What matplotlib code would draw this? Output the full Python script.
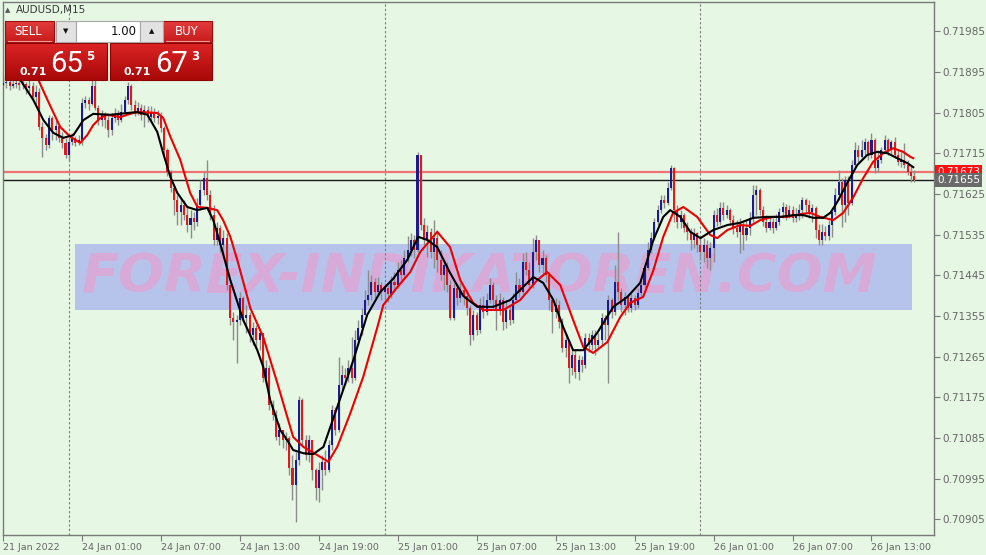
import numpy as np
import matplotlib
matplotlib.use("Agg")
import matplotlib.pyplot as plt
from matplotlib.patches import Rectangle
from matplotlib.colors import LinearSegmentedColormap
from matplotlib.transforms import blended_transform_factory

W, H = 987, 555

# prices in points above 0.70000  (1655 -> 0.71655), AUDUSD M15, bar 0 = 21 Jan 19:00
BASE = 0.70
PT = 0.00001

first_open = 1866
closes = [
    1870, 1873, 1864, 1868, 1870, 1866, 1868, 1859, 1864, 1839,
    1850, 1773, 1749, 1733, 1793, 1766, 1775, 1749, 1738, 1711,
    1740, 1749, 1738, 1744, 1826, 1833, 1824, 1864, 1815, 1788,
    1800, 1788, 1766, 1793, 1800, 1788, 1806, 1833, 1864, 1822,
    1806, 1815, 1800, 1811, 1795, 1806, 1793, 1797, 1771, 1722,
    1673, 1638, 1611, 1585, 1600, 1578, 1556, 1572, 1563, 1600,
    1634, 1660, 1622, 1578, 1523, 1549, 1512, 1527, 1423, 1350,
    1341, 1346, 1395, 1350, 1357, 1313, 1328, 1302, 1317, 1217,
    1240, 1158, 1136, 1087, 1102, 1080, 1085, 1018, 981, 1036,
    1169, 1080, 1047, 1080, 1014, 974, 1014, 1032, 1014, 1069,
    1147, 1102, 1202, 1224, 1217, 1240, 1217, 1302, 1328, 1357,
    1390, 1401, 1430, 1408, 1423, 1408, 1417, 1403, 1430, 1423,
    1456, 1445, 1483, 1501, 1523, 1501, 1711, 1556, 1523, 1541,
    1496, 1527, 1479, 1445, 1468, 1423, 1350, 1417, 1395, 1412,
    1399, 1372, 1313, 1357, 1324, 1379, 1364, 1390, 1423, 1390,
    1368, 1390, 1341, 1368, 1346, 1390, 1423, 1408, 1474, 1456,
    1423, 1496, 1523, 1468, 1483, 1445, 1390, 1364, 1379, 1341,
    1284, 1302, 1240, 1268, 1231, 1257, 1246, 1306, 1291, 1313,
    1291, 1302, 1350, 1335, 1390, 1364, 1430, 1408, 1379, 1397,
    1372, 1395, 1379, 1406, 1423, 1461, 1501, 1527, 1563, 1589,
    1611, 1605, 1638, 1682, 1589, 1563, 1578, 1549, 1541, 1523,
    1538, 1512, 1496, 1512, 1483, 1505, 1578, 1563, 1594, 1578,
    1589, 1567, 1549, 1541, 1556, 1534, 1549, 1572, 1622, 1634,
    1589, 1563, 1549, 1563, 1549, 1563, 1585, 1596, 1578, 1589,
    1572, 1580, 1589, 1611, 1600, 1585, 1594, 1545, 1523, 1541,
    1532, 1556, 1585, 1622, 1651, 1600, 1656, 1605, 1689, 1722,
    1707, 1722, 1740, 1711, 1744, 1682, 1700, 1722, 1744, 1722,
    1740, 1711, 1696, 1700, 1689, 1673, 1665, 1655,
]
highs = [
    1886, 1881, 1877, 1881, 1884, 1877, 1879, 1873, 1877, 1873,
    1866, 1859, 1784, 1757, 1800, 1797, 1788, 1780, 1762, 1749,
    1749, 1760, 1753, 1755, 1837, 1842, 1839, 1886, 1890, 1822,
    1811, 1806, 1800, 1804, 1815, 1811, 1824, 1842, 1873, 1868,
    1833, 1828, 1824, 1822, 1819, 1819, 1815, 1811, 1806, 1775,
    1726, 1678, 1645, 1622, 1616, 1611, 1600, 1589, 1585, 1616,
    1656, 1673, 1700, 1634, 1600, 1563, 1556, 1545, 1538, 1423,
    1364, 1357, 1408, 1399, 1379, 1364, 1341, 1335, 1328, 1306,
    1257, 1246, 1169, 1147, 1118, 1102, 1098, 1089, 1047, 1054,
    1178, 1173, 1091, 1091, 1080, 1018, 1032, 1047, 1058, 1080,
    1158, 1153, 1264, 1246, 1240, 1257, 1308, 1324, 1346, 1372,
    1412, 1456, 1445, 1439, 1441, 1430, 1428, 1423, 1443, 1452,
    1474, 1479, 1501, 1532, 1538, 1534, 1718, 1711, 1572, 1556,
    1549, 1567, 1545, 1501, 1479, 1474, 1434, 1428, 1423, 1428,
    1419, 1412, 1379, 1368, 1364, 1395, 1399, 1406, 1439, 1430,
    1401, 1406, 1397, 1390, 1379, 1406, 1452, 1439, 1494, 1496,
    1474, 1527, 1534, 1523, 1501, 1490, 1452, 1399, 1395, 1390,
    1350, 1317, 1302, 1279, 1279, 1268, 1266, 1317, 1317, 1324,
    1324, 1317, 1361, 1357, 1401, 1395, 1468, 1541, 1417, 1408,
    1401, 1406, 1401, 1417, 1434, 1474, 1519, 1541, 1572, 1600,
    1622, 1622, 1651, 1689, 1684, 1600, 1589, 1583, 1563, 1549,
    1549, 1541, 1527, 1527, 1523, 1519, 1589, 1594, 1607, 1607,
    1600, 1594, 1578, 1567, 1572, 1563, 1567, 1585, 1645, 1645,
    1638, 1598, 1578, 1576, 1572, 1580, 1594, 1607, 1603, 1600,
    1598, 1594, 1603, 1618, 1616, 1611, 1603, 1598, 1558, 1558,
    1554, 1567, 1594, 1638, 1678, 1660, 1665, 1665, 1700, 1740,
    1733, 1744, 1749, 1744, 1760, 1749, 1722, 1729, 1755, 1749,
    1744, 1751, 1722, 1718, 1738, 1700, 1687, 1678,
]
lows = [
    1864, 1859, 1855, 1859, 1859, 1855, 1857, 1846, 1850, 1833,
    1824, 1766, 1707, 1722, 1726, 1744, 1744, 1740, 1726, 1704,
    1698, 1733, 1731, 1733, 1733, 1815, 1811, 1822, 1811, 1777,
    1775, 1771, 1751, 1755, 1784, 1777, 1784, 1800, 1824, 1811,
    1797, 1800, 1788, 1773, 1784, 1788, 1784, 1780, 1762, 1711,
    1665, 1629, 1578, 1556, 1556, 1567, 1541, 1527, 1545, 1554,
    1589, 1622, 1611, 1567, 1512, 1512, 1496, 1488, 1412, 1335,
    1302, 1251, 1335, 1341, 1317, 1297, 1291, 1284, 1279, 1209,
    1202, 1147, 1125, 1080, 1069, 1063, 1058, 1003, 947, 899,
    1025, 1069, 1036, 1032, 992, 947, 943, 970, 1003, 1009,
    1058, 1091, 1098, 1191, 1202, 1209, 1206, 1213, 1291, 1313,
    1357, 1379, 1390, 1395, 1401, 1390, 1390, 1386, 1395, 1408,
    1417, 1434, 1439, 1474, 1488, 1483, 1496, 1545, 1512, 1485,
    1483, 1461, 1452, 1434, 1412, 1408, 1346, 1346, 1379, 1386,
    1379, 1357, 1291, 1302, 1313, 1317, 1350, 1357, 1384, 1372,
    1324, 1357, 1324, 1328, 1335, 1339, 1386, 1397, 1401, 1445,
    1417, 1417, 1479, 1452, 1445, 1430, 1368, 1317, 1350, 1328,
    1275, 1264, 1206, 1224, 1217, 1213, 1231, 1240, 1275, 1279,
    1268, 1279, 1291, 1302, 1206, 1350, 1357, 1390, 1364, 1357,
    1364, 1364, 1368, 1372, 1399, 1417, 1456, 1494, 1523, 1556,
    1583, 1594, 1600, 1634, 1563, 1549, 1549, 1541, 1523, 1501,
    1505, 1496, 1479, 1474, 1461, 1456, 1474, 1554, 1556, 1567,
    1572, 1556, 1536, 1530, 1494, 1501, 1523, 1534, 1563, 1578,
    1578, 1554, 1541, 1545, 1538, 1545, 1556, 1572, 1567, 1572,
    1563, 1563, 1567, 1572, 1585, 1572, 1563, 1527, 1512, 1512,
    1523, 1523, 1530, 1578, 1611, 1552, 1563, 1578, 1600, 1684,
    1696, 1700, 1711, 1700, 1704, 1671, 1673, 1693, 1715, 1711,
    1711, 1704, 1689, 1684, 1682, 1667, 1651, 1651,
]

# indicator lines (bar position, points)
fast_idx = [5.3, 9.2, 12.3, 15.3, 18.3, 21.4, 24.4, 27.4, 32.6, 37.8, 40.8, 43.9, 46.9, 48.7,
            50.9, 53.0, 56.0, 59.0, 62.1, 63.9, 66.0, 69.1, 73.0, 77.3, 79.1, 81.2, 84.3, 86.4,
            88.2, 91.3, 94.3, 97.4, 101.6, 106.5, 110.7, 114.7, 118.6, 122.9, 126.2, 129.0,
            132.0, 135.9, 139.9, 144.2, 149.0, 154.2, 158.1, 161.2, 164.2, 167.3, 170.3, 173.3,
            176.4, 180.6, 185.5, 189.8, 193.7, 197.7, 200.7, 202.8, 205.9, 208.9, 212.0, 215.9,
            220.2, 224.1, 228.1, 232.3, 236.3, 240.2, 243.2, 246.3, 249.3, 251.5, 253.6, 256.6,
            259.7, 262.7, 265.7, 268.8, 271.8, 274.9, 276.7]
fast_val = [1877, 1833, 1788, 1760, 1749, 1755, 1788, 1802, 1800, 1804, 1806, 1800, 1762, 1715,
            1662, 1627, 1596, 1589, 1594, 1567, 1516, 1434, 1346, 1279, 1242, 1169, 1102, 1080,
            1058, 1051, 1049, 1065, 1153, 1257, 1357, 1408, 1437, 1479, 1530, 1523,
            1507, 1450, 1399, 1375, 1375, 1390, 1419, 1441, 1428, 1390, 1330, 1279,
            1279, 1317, 1375, 1397, 1428, 1523, 1574, 1589, 1574, 1541, 1527, 1545,
            1556, 1561, 1572, 1574, 1574, 1578, 1578, 1572, 1572, 1583, 1607, 1649,
            1689, 1711, 1718, 1715, 1704, 1693, 1684]
slow_idx = [11.0, 14.4, 17.4, 20.5, 23.5, 25.6, 27.4, 29.6, 31.7, 35.7, 37.8, 39.6, 41.7, 46.9,
            48.7, 50.9, 53.9, 56.9, 59.1, 62.1, 65.1, 66.9, 69.1, 71.2, 75.2, 79.1, 83.4, 88.2,
            91.3, 95.5, 98.9, 101.6, 105.6, 109.5, 113.8, 115.6, 119.9, 123.8, 126.8, 132.0,
            135.9, 139.0, 142.9, 146.0, 152.1, 157.2, 162.4, 165.4, 169.4, 173.3, 176.4, 179.4,
            183.7, 187.6, 190.7, 194.6, 197.7, 200.7, 203.7, 206.8, 211.0, 215.0, 217.1, 220.2,
            224.1, 227.1, 230.2, 234.1, 238.4, 242.3, 245.4, 248.4, 252.4, 255.4, 258.5, 261.5,
            264.5, 267.6, 270.6, 273.6, 275.8, 276.7]
slow_val = [1873, 1819, 1773, 1751, 1738, 1755, 1777, 1793, 1800, 1795, 1800, 1804, 1806, 1804,
            1793, 1751, 1700, 1627, 1596, 1594, 1589, 1567, 1530, 1479, 1372, 1308, 1206, 1087,
            1065, 1047, 1032, 1065, 1140, 1220, 1330, 1379, 1419, 1452, 1496, 1541,
            1507, 1434, 1384, 1368, 1368, 1390, 1434, 1452, 1423, 1346, 1286, 1273,
            1297, 1352, 1384, 1397, 1456, 1530, 1583, 1596, 1574, 1534, 1527, 1545,
            1556, 1554, 1567, 1574, 1574, 1580, 1583, 1574, 1567, 1583, 1618, 1660,
            1696, 1715, 1726, 1718, 1707, 1704]

bid = 0.71655
ask = 0.71673
price_ticks = [0.71985, 0.71895, 0.71805, 0.71715, 0.71625, 0.71535, 0.71445,
               0.71355, 0.71265, 0.71175, 0.71085, 0.70995, 0.70905]
time_ticks = [0, 24, 48, 72, 96, 120, 144, 168, 192, 216, 240, 264]
time_labels = ["21 Jan 2022", "24 Jan 01:00", "24 Jan 07:00", "24 Jan 13:00", "24 Jan 19:00",
               "25 Jan 01:00", "25 Jan 07:00", "25 Jan 13:00", "25 Jan 19:00",
               "26 Jan 01:00", "26 Jan 07:00", "26 Jan 13:00"]
day_starts = [20, 116, 212]

BG = "#e6f7e4"
BULL = "#1c1c8c"
BEAR = "#dc1c1c"
WICK = "#8c8c8c"
GRID = "#7a7a7a"
TXT = "#666666"

c = BASE + np.array(closes) * PT
o = BASE + np.array([first_open] + closes[:-1]) * PT
hi = BASE + np.array(highs) * PT
lo = BASE + np.array(lows) * PT
idx = np.arange(len(c))

fig = plt.figure(figsize=(W / 100, H / 100), dpi=100, facecolor=BG)
ax = fig.add_axes([3 / W, 20 / H, 931 / W, 533 / H])
ax.set_facecolor(BG)

# watermark band behind the data
ax.add_patch(Rectangle((0.0773, 0.422), 0.8991, 0.124, transform=ax.transAxes,
                       facecolor="#b6c4ec", edgecolor="none", zorder=0.5))
ax.text(0.512, 0.484, "FOREX-INDIKATOREN.COM", transform=ax.transAxes, ha="center",
        va="center", fontsize=39, fontweight="bold", fontstyle="italic", color="#d8aad8",
        zorder=0.6)

for d in day_starts:
    ax.axvline(d, color=GRID, lw=0.8, ls=(0, (2, 2)), zorder=1)
ax.axhline(ask, color="#f07272", lw=1.6, zorder=1.5)
ax.axhline(bid, color="#1a1a1a", lw=1.0, zorder=1.5)

# candles
top = np.maximum.reduce([hi, o, c])
bot = np.minimum.reduce([lo, o, c])
ax.vlines(idx, bot, top, color=WICK, lw=1.0, zorder=2)
bull = c >= o
body = np.maximum(np.abs(c - o), 0.8 * PT)
ax.bar(idx[bull], body[bull], bottom=o[bull], width=0.62, color=BULL, linewidth=0, zorder=3)
ax.bar(idx[~bull], body[~bull], bottom=c[~bull], width=0.62, color=BEAR, linewidth=0, zorder=3)

ax.plot(slow_idx, BASE + np.array(slow_val) * PT, color="#ee0000", lw=1.5, zorder=4)
ax.plot(fast_idx, BASE + np.array(fast_val) * PT, color="#000000", lw=1.5, zorder=4)

ax.set_xlim(0, 283)
ax.set_ylim(BASE + 870 * PT, BASE + 2049.6 * PT)

ax.yaxis.tick_right()
ax.set_yticks(price_ticks)
ax.set_yticklabels([f"{v:.5f}" for v in price_ticks])
ax.tick_params(axis="y", length=4, width=0.8, color=GRID, labelsize=7.5,
               labelcolor=TXT, pad=2)
ax.set_xticks(time_ticks)
ax.set_xticklabels(time_labels, ha="left")
ax.tick_params(axis="x", length=4, width=0.8, color=GRID, labelsize=6.8,
               labelcolor=TXT, pad=2)
for s in ax.spines.values():
    s.set_color(GRID)
    s.set_linewidth(1.0)

# current price tags on the price scale
tr = blended_transform_factory(ax.transAxes, ax.transData)
ax.text(1.0035, ask, f"{ask:.5f}", transform=tr, ha="left", va="center", fontsize=7.5,
        color="white", bbox=dict(boxstyle="square,pad=0.18", fc="#ff1010", ec="none"),
        clip_on=False, zorder=6)
ax.text(1.0035, bid, f"{bid:.5f}", transform=tr, ha="left", va="center", fontsize=7.5,
        color="white", bbox=dict(boxstyle="square,pad=0.18", fc="#6a6a6a", ec="none"),
        clip_on=False, zorder=7)

# one-click trading panel, drawn in pixel space
ov = fig.add_axes([0, 0, 1, 1], zorder=10)
ov.patch.set_alpha(0)
ov.axis("off")


def grad_box(x0, y0, x1, y1, c_top, c_bot, edge):
    cmap = LinearSegmentedColormap.from_list("g", [c_top, c_bot])
    ov.imshow(np.linspace(0, 1, 40).reshape(-1, 1), extent=(x0, x1, y1, y0), cmap=cmap,
              aspect="auto", interpolation="bilinear", zorder=1)
    ov.add_patch(Rectangle((x0, y0), x1 - x0, y1 - y0, fill=False, ec=edge, lw=0.8, zorder=2))


grad_box(5, 21, 54, 42, "#e23c3c", "#c81c1c", "#a00c0c")
grad_box(163, 21, 212, 42, "#e23c3c", "#c81c1c", "#a00c0c")
grad_box(5, 43, 107, 80, "#dc2424", "#a80808", "#900000")
grad_box(110, 43, 212, 80, "#dc2424", "#a80808", "#900000")
ov.plot([8, 51], [40.5, 40.5], color="#f29a9a", lw=0.8, zorder=3)
ov.plot([166, 209], [40.5, 40.5], color="#f29a9a", lw=0.8, zorder=3)
ov.add_patch(Rectangle((56, 21), 20, 21, fc="#e2e2e2", ec="#a8a8a8", lw=0.8, zorder=2))
ov.add_patch(Rectangle((76, 21), 64, 21, fc="white", ec="#a8a8a8", lw=0.8, zorder=2))
ov.add_patch(Rectangle((140, 21), 23, 21, fc="#e2e2e2", ec="#a8a8a8", lw=0.8, zorder=2))

ov.text(8, 10, "\u25b2", fontsize=5, color="#555555", ha="center", va="center")
ov.text(16, 10.5, "AUDUSD,M15", fontsize=7.5, color="#3a3a3a", ha="left", va="center")
ov.text(28, 31.5, "SELL", fontsize=8.5, color="white", ha="center", va="center", zorder=4)
ov.text(187, 31.5, "BUY", fontsize=8.5, color="white", ha="center", va="center", zorder=4)
ov.text(66, 31.5, "\u25bc", fontsize=5, color="#111111", ha="center", va="center", zorder=4)
ov.text(151.5, 31.5, "\u25b2", fontsize=5, color="#111111", ha="center", va="center", zorder=4)
ov.text(137, 31.5, "1.00", fontsize=8.5, color="#111111", ha="right", va="center", zorder=4)

big = ["Roboto", "DejaVu Sans"]
for x_small, x_big, x_sup, big_txt, sup_txt in [(19, 50, 86, "65", "5"), (123, 155, 191, "67", "3")]:
    ov.text(x_small, 75, "0.71", fontsize=8, fontweight="bold", color="white",
            ha="left", va="baseline", zorder=4)
    ov.text(x_big, 72, big_txt, fontsize=21, family=big, fontweight="normal", color="white",
            ha="left", va="baseline", zorder=4)
    ov.text(x_sup, 60, sup_txt, fontsize=8.5, fontweight="bold", color="white",
            ha="left", va="baseline", zorder=4)

ov.set_xlim(0, W)
ov.set_ylim(H, 0)

fig.savefig("out.png", dpi=100, facecolor=BG)
